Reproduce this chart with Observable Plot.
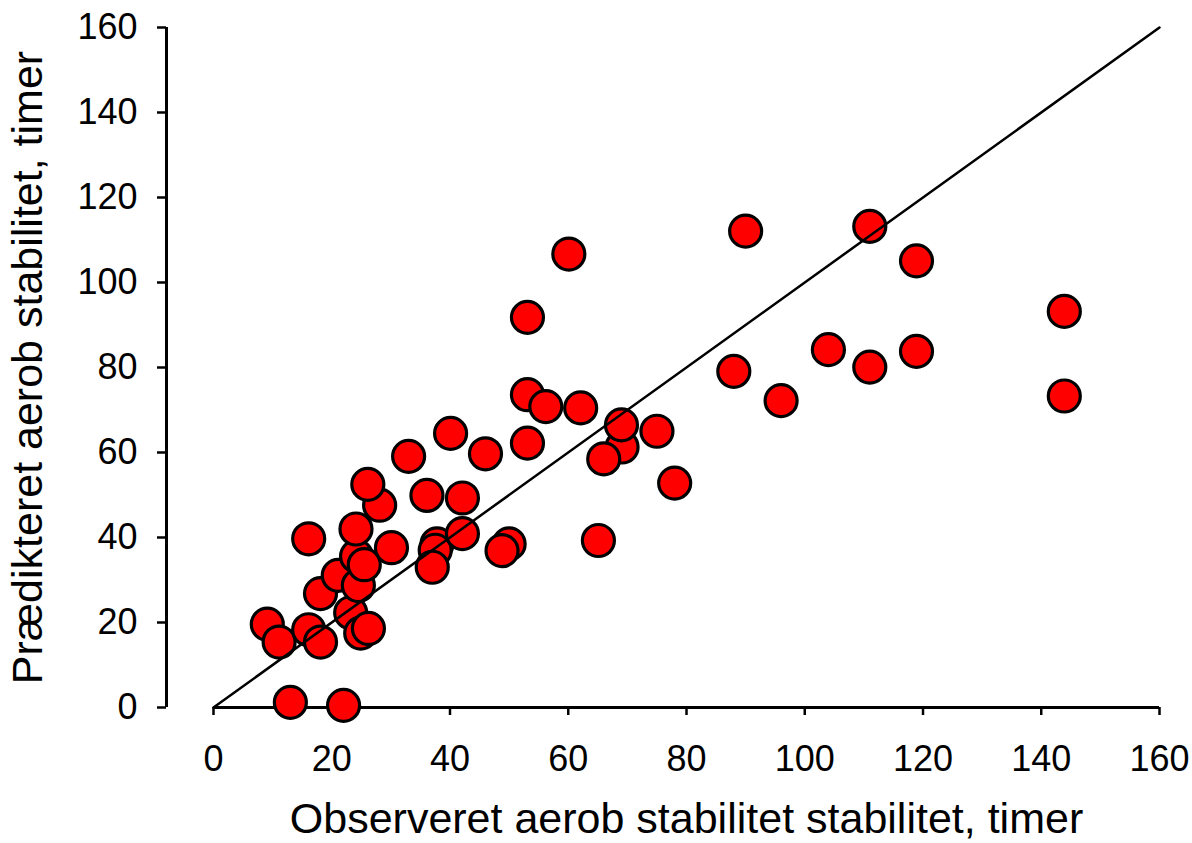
<!DOCTYPE html>
<html>
<head>
<meta charset="utf-8">
<script src="https://cdn.jsdelivr.net/npm/d3@7"></script>
<script src="https://cdn.jsdelivr.net/npm/@observablehq/plot@0.6"></script>
<style>
  html, body { margin: 0; padding: 0; background: #fff; }
  #chart svg { display: block; }
</style>
</head>
<body>
<div id="chart"></div>
<script>
// Observed aerobic stability (hours)
const observed = [9.1, 11.1, 16.1, 18.1, 18.1, 16.1, 21.1, 23.2, 24.9, 26.2, 24.5, 24.2, 25.5, 24.1, 28.1, 26.1, 30.1, 33.0, 36.1, 42.1, 40.1, 46.0, 53.1, 37.8, 37.5, 37.0, 42.1, 50.0, 48.8, 13.0, 22.0, 60.1, 53.1, 53.1, 56.2, 62.1, 69.1, 69.0, 66.0, 75.0, 78.0, 65.1, 90.0, 111.0, 118.9, 143.9, 88.0, 96.0, 104.0, 111.0, 118.9, 143.9];
// Predicted aerobic stability (hours)
const predicted = [19.6, 15.4, 18.3, 15.4, 26.8, 39.7, 31.1, 22.3, 17.5, 18.6, 28.7, 35.6, 33.6, 42.0, 47.6, 52.5, 37.6, 59.1, 49.9, 49.3, 64.5, 59.7, 62.2, 38.5, 37.0, 33.0, 40.9, 38.5, 36.9, 1.2, 0.5, 106.7, 91.8, 73.6, 70.8, 70.5, 61.3, 66.5, 58.5, 65.0, 52.8, 39.3, 112.1, 113.2, 105.1, 93.2, 79.1, 72.2, 84.2, 80.1, 83.8, 73.3];

const xTicks = [0, 20, 40, 60, 80, 100, 120, 140, 160];
const yTicks = [0, 20, 40, 60, 80, 100, 120, 140, 160];
const axisDomain = [0, 160];
const identityLine = [0, 160];
const xTitle = "Observeret aerob stabilitet stabilitet, timer";
const yTitle = "Prædikteret aerob stabilitet, timer";

const points = observed.map((o, i) => ({observed: o, predicted: predicted[i]}));

const font = "'Liberation Sans', Arial, sans-serif";

const chart = Plot.plot({
  width: 1192,
  height: 843,
  marginLeft: 213,
  marginRight: 33,
  marginTop: 27,
  marginBottom: 136,
  style: {background: "#fff", fontFamily: font, color: "#000", overflow: "visible"},
  x: {domain: axisDomain, axis: null},
  y: {domain: axisDomain, axis: null},
  marks: [
    Plot.axisX({ticks: xTicks, tickSize: 8, tickPadding: 30, fontSize: 36, strokeWidth: 2.5, label: null, tickFormat: d => String(d)}),
    Plot.axisY({ticks: yTicks, tickSize: 9, tickPadding: 20, dx: -47, fontSize: 36, strokeWidth: 2.5, label: null, tickFormat: d => String(d)}),
    Plot.ruleY([axisDomain[0]], {x1: axisDomain[0], x2: axisDomain[1], stroke: "#000", strokeWidth: 3}),
    Plot.ruleX([axisDomain[0]], {y1: axisDomain[0], y2: axisDomain[1], dx: -47, stroke: "#000", strokeWidth: 3}),
    Plot.dot(points, {x: "observed", y: "predicted", r: 16, fill: "#ff0000", stroke: "#000", strokeWidth: 3.2}),
    Plot.line(identityLine, {x: d => d, y: d => d, stroke: "#000", strokeWidth: 2.5}),
    Plot.text([xTitle], {frameAnchor: "bottom", dy: 112, lineAnchor: "middle", textAnchor: "middle", fontSize: 43, text: d => d, fill: "#000"}),
    Plot.text([yTitle], {frameAnchor: "left", dx: -185, rotate: -90, lineAnchor: "middle", textAnchor: "middle", fontSize: 43, text: d => d, fill: "#000"})
  ]
});
document.getElementById("chart").appendChild(chart);
</script>
</body>
</html>
